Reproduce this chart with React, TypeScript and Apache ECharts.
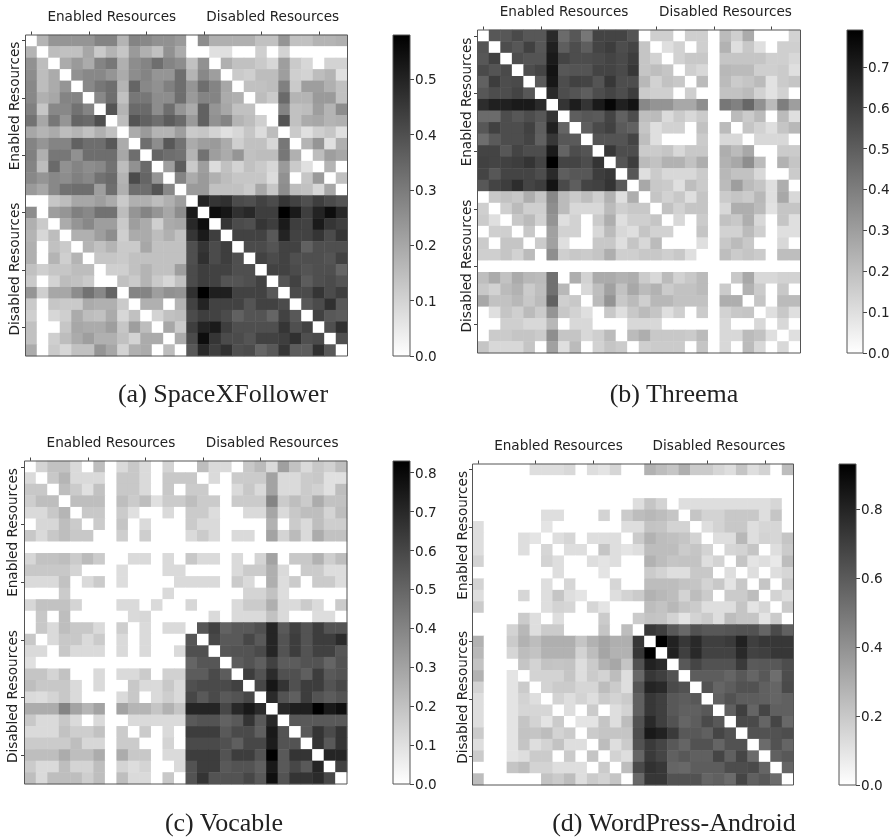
import React, { useEffect, useRef } from "react";
import * as echarts from "echarts";

const spaceXRows = [
  [0,17,24,24,24,24,28,28,17,28,27,25,25,23,0,26,18,18,18,18,14,14,24,14,14,17,17,18],
  [17,0,15,14,14,20,12,17,13,23,18,14,25,19,0,0,7,7,0,0,11,0,10,0,0,0,0,0],
  [25,15,0,19,23,19,28,31,18,26,28,33,28,26,14,25,0,18,14,14,12,9,22,12,9,0,10,10],
  [26,15,19,0,25,27,27,24,19,26,28,24,24,33,17,27,22,0,12,11,15,15,22,11,10,15,17,7],
  [27,15,19,24,0,27,31,33,17,35,27,25,29,33,24,33,28,20,0,14,14,15,29,12,22,22,18,14],
  [27,18,20,28,28,0,27,33,14,31,31,26,26,33,23,28,28,19,18,0,15,12,34,17,17,23,23,14],
  [29,13,27,27,32,28,0,39,17,34,34,26,33,24,19,36,24,20,14,14,0,0,28,14,15,22,17,26],
  [32,20,31,24,35,34,40,0,15,39,36,33,37,34,23,36,25,28,17,15,11,0,39,14,19,20,17,18],
  [20,17,19,15,17,14,18,14,0,19,23,17,17,22,12,13,10,7,9,13,8,15,0,12,7,11,13,7],
  [28,24,28,28,36,33,33,38,19,0,33,26,38,32,19,22,23,19,11,14,14,9,31,0,17,24,7,18],
  [29,18,31,31,25,33,33,33,20,33,0,35,33,32,17,32,22,19,24,14,15,15,31,18,0,15,22,20],
  [28,15,34,25,28,26,27,32,15,25,34,0,22,37,12,22,8,14,10,14,12,9,23,12,7,0,17,0],
  [27,24,27,26,29,27,32,34,17,41,35,24,0,28,19,23,18,15,13,13,13,8,25,0,13,23,0,14],
  [23,20,27,32,33,33,22,33,18,33,33,39,27,0,23,23,14,14,14,12,20,13,26,15,14,9,20,0],
  [0,0,13,15,20,20,22,19,12,18,18,15,18,22,0,50,46,47,41,40,43,41,46,43,40,44,41,39],
  [26,0,22,24,29,27,32,32,15,24,28,24,20,26,52,0,55,53,47,49,44,44,58,52,44,50,55,49],
  [18,12,0,19,24,27,22,22,12,22,19,11,19,20,49,55,0,46,41,40,46,44,52,44,43,52,46,44],
  [17,9,15,0,18,18,22,26,11,19,19,15,18,14,46,52,44,0,43,43,43,38,50,43,43,46,41,46],
  [18,0,14,12,0,17,14,17,12,12,20,14,14,14,40,46,41,44,0,41,41,39,43,43,36,40,40,40],
  [18,0,17,11,17,0,13,13,12,14,14,14,14,14,40,47,41,44,40,0,43,41,43,40,40,40,39,43],
  [14,11,13,13,15,15,0,11,11,14,17,14,14,22,41,44,43,43,40,40,0,43,43,41,39,40,40,35],
  [12,0,10,15,14,12,0,0,14,12,17,12,9,14,41,44,43,39,39,40,43,0,39,43,37,40,41,39],
  [24,11,20,20,26,32,27,35,0,28,28,22,25,24,47,58,51,51,43,43,43,38,0,41,41,46,41,44],
  [12,0,13,12,12,19,18,18,12,0,18,18,0,17,43,50,43,43,43,39,43,43,41,0,38,41,47,38],
  [11,0,9,11,19,15,14,19,9,14,0,10,14,15,41,44,43,41,36,39,39,35,43,38,0,43,38,37],
  [14,0,0,13,20,19,19,22,13,22,15,0,20,12,44,50,52,44,40,40,40,40,46,40,43,0,40,47],
  [14,0,11,15,19,22,18,18,14,10,19,19,0,19,41,55,46,41,41,39,43,43,44,47,40,41,0,40],
  [19,0,12,9,14,14,24,20,10,18,19,0,15,0,38,49,44,47,40,41,35,38,46,37,37,47,38,0],
];

const threemaRows = [
  [0,52,52,56,52,52,66,46,52,42,58,58,58,53,0,15,15,0,15,15,0,21,15,26,0,0,0,14],
  [53,0,55,52,59,52,69,50,55,50,58,60,55,58,18,0,10,14,0,15,0,24,10,17,10,0,15,15],
  [52,59,0,55,53,53,71,58,55,55,56,58,56,60,18,14,0,14,17,17,0,18,18,18,18,15,15,12],
  [56,53,56,0,55,58,73,52,53,53,58,58,56,62,18,20,18,0,15,12,0,22,21,21,15,15,16,10],
  [49,60,55,56,0,51,72,55,59,58,53,62,55,55,22,14,19,17,0,21,0,21,16,18,21,9,16,18],
  [52,55,55,58,52,0,66,55,53,50,55,58,55,60,16,15,15,0,15,0,0,19,19,21,14,9,14,0],
  [65,69,69,71,71,66,0,63,70,63,71,77,69,73,37,33,33,27,27,35,0,42,39,47,34,21,40,30],
  [46,46,55,52,55,52,63,0,50,52,51,58,49,55,20,21,11,16,12,16,0,0,21,16,21,0,21,10],
  [52,59,55,55,59,50,69,48,0,50,56,59,51,49,18,10,14,14,0,19,0,21,0,18,14,10,18,22],
  [45,51,55,55,58,49,62,52,51,0,53,53,53,58,20,10,0,0,0,16,0,12,12,0,12,12,12,0],
  [58,58,52,58,55,55,71,48,55,53,0,62,55,55,16,16,18,12,17,17,0,25,21,27,0,0,16,16],
  [59,58,59,60,63,58,79,58,58,55,63,0,53,60,21,19,24,24,19,25,0,24,27,35,21,0,24,18],
  [58,52,58,58,58,55,66,50,52,52,60,62,0,52,10,16,12,12,12,16,0,22,19,19,12,0,0,16],
  [52,58,60,65,58,60,73,56,50,58,59,63,51,0,27,17,16,10,20,16,0,21,30,21,18,10,25,0],
  [0,17,19,17,25,18,37,21,16,20,15,24,10,25,0,18,14,17,10,18,0,16,18,16,22,10,27,12],
  [15,0,15,21,15,15,35,21,12,12,12,21,15,17,17,0,19,14,18,18,0,12,25,25,21,9,18,18],
  [16,10,0,17,21,14,33,10,14,0,16,25,10,15,15,18,0,12,0,16,0,19,17,25,12,0,18,10],
  [0,15,15,0,17,0,29,14,14,0,12,21,12,10,18,14,14,0,0,18,0,14,14,21,15,0,10,10],
  [16,0,18,18,0,16,29,10,0,0,17,17,10,18,12,21,0,0,0,10,0,17,21,17,0,0,12,0],
  [15,15,18,14,21,0,35,15,17,16,18,25,15,15,17,17,15,17,10,0,0,20,16,18,16,0,20,20],
  [0,0,0,0,0,0,0,0,0,0,0,0,0,0,0,0,0,0,0,0,0,0,0,0,0,0,0,0],
  [20,26,19,26,22,21,44,0,25,14,26,26,24,25,16,12,21,14,17,21,0,0,17,27,12,12,14,14],
  [17,14,21,24,16,20,44,22,0,12,20,29,19,27,21,24,16,19,19,21,0,16,0,24,16,0,17,0],
  [27,19,19,22,17,21,49,15,17,0,21,33,17,21,15,22,22,19,19,19,0,25,25,0,18,0,21,21],
  [0,10,18,15,21,16,33,17,14,10,0,17,10,17,21,18,10,15,0,16,0,14,17,18,0,10,17,10],
  [0,0,15,15,12,12,22,0,12,12,0,0,0,12,12,12,0,0,0,0,0,12,0,0,12,0,12,0],
  [0,16,16,18,18,16,35,18,18,12,15,21,0,21,25,17,17,17,16,21,0,12,12,21,19,10,0,10],
  [18,12,12,12,18,0,29,10,21,0,14,18,16,0,15,16,16,16,0,18,0,12,0,21,12,0,12,0],
];

const vocableRows = [
  [0,14,20,20,12,0,21,0,12,18,12,0,14,0,0,21,12,12,0,18,22,12,31,20,12,18,15,21],
  [12,0,18,24,12,12,12,0,18,18,12,0,18,18,18,0,12,0,17,17,17,30,12,12,17,18,10,10],
  [18,18,0,21,17,10,20,0,18,18,12,0,18,0,17,17,0,0,12,18,12,30,12,12,17,15,10,21],
  [16,21,21,0,21,21,21,0,21,17,21,10,17,17,21,17,17,0,17,17,17,40,17,21,17,27,20,20],
  [12,12,18,24,0,18,18,0,17,10,0,0,12,0,17,17,11,0,0,12,12,29,12,18,21,21,14,21],
  [0,13,13,21,17,0,17,0,19,0,12,0,0,0,17,12,12,0,0,0,0,25,0,17,12,21,16,16],
  [18,12,18,21,18,18,0,0,16,0,16,0,0,0,12,17,12,0,12,12,0,30,14,22,12,27,20,20],
  [0,0,0,0,0,0,0,0,0,0,0,0,0,0,0,0,0,0,0,0,0,0,0,0,0,0,0,0],
  [13,20,20,21,17,22,17,0,0,12,12,0,12,0,18,12,12,0,12,0,14,30,0,18,18,25,16,21],
  [18,18,18,18,14,0,0,0,11,0,0,0,12,12,0,0,0,0,12,17,17,26,12,0,17,17,11,11],
  [12,12,12,20,0,12,17,0,11,0,0,0,0,12,12,12,12,0,17,12,0,26,11,17,0,17,17,11],
  [0,0,0,17,0,0,0,0,0,0,0,0,12,0,0,0,0,0,0,14,14,20,11,0,0,0,0,0],
  [13,20,20,20,14,0,0,0,12,12,0,12,0,0,13,0,0,0,12,17,17,26,12,12,17,12,0,17],
  [0,18,0,21,0,0,0,0,0,12,13,0,0,0,0,0,12,0,12,12,12,20,12,0,0,11,11,0],
  [0,18,12,21,18,18,12,0,16,0,12,0,12,12,0,55,62,51,54,54,57,71,54,62,56,63,56,56],
  [18,0,12,18,18,12,17,0,12,0,12,0,0,0,55,0,60,54,54,60,54,71,56,63,56,63,63,69],
  [12,12,0,18,12,12,12,0,12,0,12,0,0,12,57,57,0,55,56,56,59,71,56,63,56,62,62,55],
  [10,0,0,0,0,0,0,0,0,0,0,0,0,0,50,55,55,0,53,56,52,62,53,53,56,56,50,56],
  [19,19,14,20,0,0,12,0,12,12,17,0,15,15,53,53,59,53,0,63,56,69,57,57,52,63,54,56],
  [21,18,18,18,12,0,12,0,0,18,12,12,18,12,57,59,59,59,62,0,60,76,66,57,63,63,56,60],
  [12,11,14,18,12,0,0,0,12,18,0,12,16,12,60,54,59,54,56,60,0,69,56,52,63,56,53,56],
  [27,27,27,40,30,24,30,0,30,24,24,19,25,19,71,71,71,60,70,75,69,0,70,73,73,83,75,78],
  [18,12,12,18,12,0,12,0,0,12,12,12,12,12,54,56,56,51,54,66,54,70,0,54,54,54,54,54],
  [12,12,12,20,16,16,20,0,17,0,17,0,12,0,63,63,63,54,59,59,52,75,56,0,54,66,59,66],
  [17,17,17,17,21,13,13,0,17,17,0,0,14,0,59,59,59,57,52,60,60,74,56,56,0,66,54,66],
  [21,21,21,27,21,21,27,0,27,18,18,0,12,12,63,63,63,56,63,63,56,83,54,66,66,0,71,71],
  [17,12,12,21,14,14,21,0,14,11,14,0,0,12,56,63,63,54,56,56,52,75,54,60,54,71,0,62],
  [21,12,21,21,21,16,21,0,21,12,12,0,18,0,56,66,56,56,56,60,54,78,56,66,66,69,60,0],
];

const wordPressRows = [
  [0,0,0,0,0,12,12,12,14,0,12,10,15,0,0,28,24,21,29,19,19,15,12,21,12,16,0,24],
  [0,0,0,0,0,0,0,0,0,0,0,0,0,0,0,0,0,0,0,0,0,0,0,0,0,0,0,0],
  [0,0,0,0,0,0,0,0,0,0,0,0,0,0,0,0,0,0,0,0,0,0,0,0,0,0,0,0],
  [0,0,0,0,0,0,0,0,0,0,0,0,0,0,12,21,16,0,12,12,12,12,12,12,12,12,15,0],
  [0,0,0,0,0,0,12,12,0,0,0,16,0,19,24,26,24,21,0,21,16,16,20,20,20,12,21,0],
  [12,0,0,0,0,0,10,0,0,0,0,0,0,12,12,22,21,16,16,0,12,16,20,20,12,15,15,0],
  [12,0,0,0,12,10,0,12,15,0,12,12,12,0,19,28,24,23,21,16,0,12,12,26,12,16,15,21],
  [12,0,0,0,12,0,15,0,12,12,0,21,12,10,12,24,24,24,19,21,16,0,15,16,21,0,12,19],
  [16,0,0,0,0,0,16,12,0,0,12,10,12,0,0,28,24,21,22,22,12,16,0,21,10,12,8,24],
  [0,0,0,0,0,0,0,12,0,0,0,10,0,0,0,19,16,12,12,20,20,0,12,0,12,0,12,15],
  [16,0,0,0,0,0,12,0,15,0,0,0,15,0,0,24,24,24,22,21,16,20,10,20,0,21,0,19],
  [12,0,0,0,15,0,12,21,12,10,0,0,12,16,19,28,26,24,16,24,19,0,19,19,24,0,16,12],
  [19,0,0,0,0,0,12,16,15,0,15,10,0,0,0,24,22,26,21,19,12,12,12,21,10,15,0,19],
  [0,0,0,0,19,12,0,12,0,0,0,19,0,0,19,22,21,16,10,16,19,12,24,21,21,10,19,0],
  [0,0,0,16,26,12,19,19,0,0,0,21,0,24,0,73,70,61,55,63,61,61,62,63,63,56,66,58],
  [28,0,0,19,28,24,29,29,29,21,28,33,29,29,73,0,93,81,73,78,70,70,72,81,70,73,73,73],
  [26,0,0,15,24,22,28,28,28,16,24,33,28,28,73,93,0,81,70,78,69,69,69,78,69,70,73,73],
  [22,0,0,0,21,16,22,21,22,12,19,28,32,21,63,81,78,0,61,68,63,63,63,72,60,61,61,65],
  [28,0,0,10,0,16,16,16,21,12,19,16,24,12,55,73,70,63,0,59,59,59,56,61,56,61,53,65],
  [16,0,0,10,19,0,16,19,19,15,15,24,19,12,62,80,78,66,63,0,63,56,59,63,63,58,56,66],
  [12,0,0,10,16,12,0,16,12,16,12,19,16,19,58,73,70,61,59,61,0,58,63,59,59,58,56,58],
  [12,0,0,10,15,15,15,0,12,0,19,0,12,16,58,73,70,61,58,58,61,0,58,70,56,68,58,58],
  [12,0,0,10,21,16,10,19,0,10,10,21,12,24,63,78,70,63,56,59,66,61,0,66,66,56,68,55],
  [19,0,0,10,22,21,24,16,19,0,19,21,21,21,65,84,81,72,61,61,58,68,63,0,63,63,63,65],
  [12,0,0,10,21,12,16,22,12,12,0,24,12,19,63,72,68,61,56,63,63,56,63,63,0,54,63,56],
  [19,0,0,10,12,19,19,0,19,0,21,0,16,12,56,72,68,58,61,58,58,68,58,68,54,0,58,61],
  [0,0,0,21,24,16,16,12,12,12,0,19,0,24,66,75,73,56,55,59,59,59,65,65,66,56,0,56],
  [24,0,0,0,0,0,22,19,24,12,19,16,21,0,55,73,73,63,63,63,56,58,54,68,58,61,54,0],
];

const captions = ["(a) SpaceXFollower", "(b) Threema", "(c) Vocable", "(d) WordPress-Android"];
const topLabels = ["Enabled Resources", "Disabled Resources"];
const sideLabels = ["Enabled Resources", "Disabled Resources"];
const maxima = [0.58, 0.79, 0.83, 0.93];
const colorTicks = [
  [0, 0.1, 0.2, 0.3, 0.4, 0.5],
  [0, 0.1, 0.2, 0.3, 0.4, 0.5, 0.6, 0.7],
  [0, 0.1, 0.2, 0.3, 0.4, 0.5, 0.6, 0.7, 0.8],
  [0, 0.2, 0.4, 0.6, 0.8],
];
const matrices = [spaceXRows, threemaRows, vocableRows, wordPressRows];

const ramp = ["#ffffff", "#000000"];

const layouts = [
  { x: 25.5, y: 35, w: 322, h: 321, bx: 393, bw: 17, sideX: 13.7, sideY: [106, 269], capX: 223, capY: 393 },
  { x: 477.5, y: 30, w: 323, h: 323, bx: 847, bw: 16, sideX: 465.7, sideY: [102, 266], capX: 674, capY: 393 },
  { x: 24.5, y: 461, w: 322.5, h: 323, bx: 393, bw: 17, sideX: 12.3, sideY: [532.5, 696.5], capX: 224, capY: 822 },
  { x: 472.5, y: 464, w: 321, h: 321, bx: 839, bw: 17, sideX: 461.7, sideY: [535.3, 697.3], capX: 674, capY: 822 },
];

const FRAME = "#555555";
const SANS = "DejaVu Sans";

export default function App() {
  const ref = useRef<HTMLDivElement>(null);
  useEffect(() => {
    const chart = echarts.init(ref.current!, undefined, { renderer: "svg" });
    const grid: any[] = [];
    const xAxis: any[] = [];
    const yAxis: any[] = [];
    const series: any[] = [];
    const visualMap: any[] = [];
    const graphic: any[] = [];
    const cats = Array.from({ length: 28 }, (_, i) => String(i));

    layouts.forEach((l, p) => {
      const vmax = maxima[p];
      const g1 = grid.length;
      grid.push({ left: l.x, top: l.y, width: l.w, height: l.h, show: true, z: 10, backgroundColor: "transparent", borderColor: FRAME, borderWidth: 1 });
      xAxis.push({
        type: "category", gridIndex: g1, position: "top", data: cats,
        axisLine: { show: false },
        axisTick: { show: true, alignWithLabel: true, interval: 4, length: 3.5, lineStyle: { color: "#444" } },
        axisLabel: {
          show: true, margin: 12, fontFamily: SANS, fontSize: 13.6, color: "#222",
          interval: (i: number) => i === 7 || i === 21,
          formatter: (_: string, i: number) => (i === 7 ? topLabels[0] : i === 21 ? topLabels[1] : ""),
        },
        splitLine: { show: false },
      });
      yAxis.push({
        type: "category", gridIndex: g1, inverse: true, data: cats,
        axisLine: { show: false },
        axisTick: { show: true, alignWithLabel: true, interval: 4, length: 3.5, lineStyle: { color: "#444" } },
        axisLabel: { show: false },
        splitLine: { show: false },
      });
      const data: number[][] = [];
      matrices[p].forEach((row, r) => row.forEach((v, c) => data.push([c, r, v / 100])));
      series.push({ type: "heatmap", xAxisIndex: g1, yAxisIndex: g1, data, itemStyle: { borderWidth: 0 } });
      visualMap.push({ show: false, seriesIndex: series.length - 1, dimension: 2, min: 0, max: vmax, inRange: { color: ramp } });

      const g2 = grid.length;
      grid.push({ left: l.bx, top: l.y, width: l.bw, height: l.h, show: true, z: 10, backgroundColor: "transparent", borderColor: FRAME, borderWidth: 1 });
      xAxis.push({ type: "category", gridIndex: g2, data: ["bar"], show: false });
      yAxis.push({
        type: "value", gridIndex: g2, position: "right", min: 0, max: vmax,
        axisLine: { show: false }, splitLine: { show: false },
        axisTick: { show: true, length: 4, customValues: colorTicks[p], lineStyle: { color: "#444" } },
        axisLabel: { show: true, margin: 5, customValues: colorTicks[p], fontFamily: SANS, fontSize: 13.6, color: "#222", formatter: (v: number) => v.toFixed(1) },
      });
      series.push({
        type: "bar", xAxisIndex: g2, yAxisIndex: g2, data: [vmax], barWidth: "100%", silent: true,
        itemStyle: {
          color: new echarts.graphic.LinearGradient(0, 0, 0, 1, [
            { offset: 0, color: ramp[1] },
            { offset: 1, color: ramp[0] },
          ]),
        },
      });

      sideLabels.forEach((text, i) => {
        graphic.push({
          type: "text", x: l.sideX, y: l.sideY[i], rotation: Math.PI / 2,
          style: { text, fontFamily: SANS, fontSize: 13.6, fill: "#222", textAlign: "center", textVerticalAlign: "middle" },
        });
      });
      graphic.push({
        type: "text", x: l.capX, y: l.capY,
        style: { text: captions[p], fontFamily: "Liberation Serif", fontSize: 26, fill: "#222", textAlign: "center", textVerticalAlign: "middle" },
      });
    });

    chart.setOption({ animation: false, backgroundColor: "#fff", grid, xAxis, yAxis, series, visualMap, graphic, tooltip: { show: false } });
    return () => chart.dispose();
  }, []);
  return <div ref={ref} style={{ position: "absolute", left: 0, top: 0, width: 893, height: 838, filter: "blur(0.4px)" }} />;
}
